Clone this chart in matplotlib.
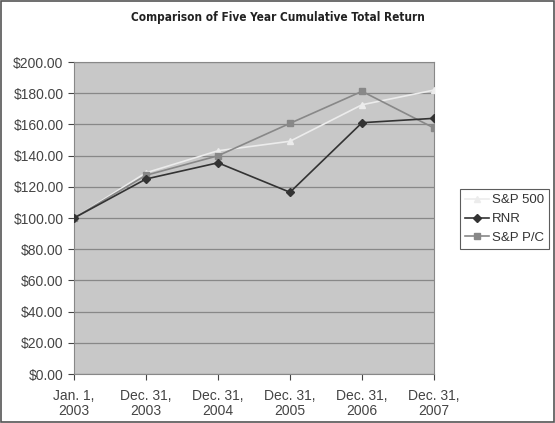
import matplotlib
matplotlib.use('Agg')
import matplotlib.pyplot as plt
from matplotlib.patches import Rectangle
from matplotlib.ticker import FuncFormatter

# data
dates = ['Jan. 1,\n2003', 'Dec. 31,\n2003', 'Dec. 31,\n2004', 'Dec. 31,\n2005', 'Dec. 31,\n2006', 'Dec. 31,\n2007']
sp500 = [100.0, 129.0, 143.1, 149.2, 172.6, 182.0]
rnr = [100.0, 125.0, 135.4, 116.5, 161.1, 163.9]
sp_pc = [100.0, 127.4, 139.9, 160.7, 181.2, 157.7]

plt.rcParams['font.family'] = ['Liberation Sans', 'DejaVu Sans']

fig = plt.figure(figsize=(5.55, 4.23), dpi=100)
ax = fig.add_axes([0.1333, 0.1158, 0.6487, 0.7376])
ax.set_facecolor('#c8c8c8')

x = range(len(dates))
ax.plot(x, sp500, color='#ececec', marker='^', markersize=5, lw=1.2, label='S&P 500', zorder=3)
ax.plot(x, rnr, color='#333333', marker='D', markersize=4, lw=1.2, label='RNR', zorder=4)
ax.plot(x, sp_pc, color='#888888', marker='s', markersize=5, lw=1.2, label='S&P P/C', zorder=3)

ax.set_xlim(0, len(dates) - 1)
ax.set_ylim(0, 200)
ax.set_yticks(range(0, 201, 20))
ax.yaxis.set_major_formatter(FuncFormatter(lambda v, p: '${:.2f}'.format(v)))
ax.set_xticks(list(x))
ax.set_xticklabels(dates, linespacing=1.1)
ax.grid(axis='y', color='#888888', lw=0.9)
ax.set_axisbelow(True)
for s in ax.spines.values():
    s.set_color('#888888')
ax.tick_params(colors='#444444', labelsize=10, length=4)
ax.tick_params(axis='x', pad=7)

fig.suptitle('Comparison of Five Year Cumulative Total Return', x=0.5, y=0.975,
             fontsize=8.5, fontweight='bold', color='#222222', family='DejaVu Sans', fontstretch='condensed')

leg = fig.legend(loc='center left', bbox_to_anchor=(0.829, 0.482), frameon=True, fancybox=False,
                 fontsize=9.5, handlelength=1.8, borderpad=0.4, labelspacing=0.5, handletextpad=0.2,
                 borderaxespad=0)
leg.get_frame().set_edgecolor('#333333')
leg.get_frame().set_linewidth(0.8)
for t in leg.get_texts():
    t.set_color('#333333')

fig.patches.append(Rectangle((0.002, 0.002), 0.996, 0.996, transform=fig.transFigure,
                             fill=False, edgecolor='#555555', lw=1.2))

plt.savefig('out.png', dpi=100)
